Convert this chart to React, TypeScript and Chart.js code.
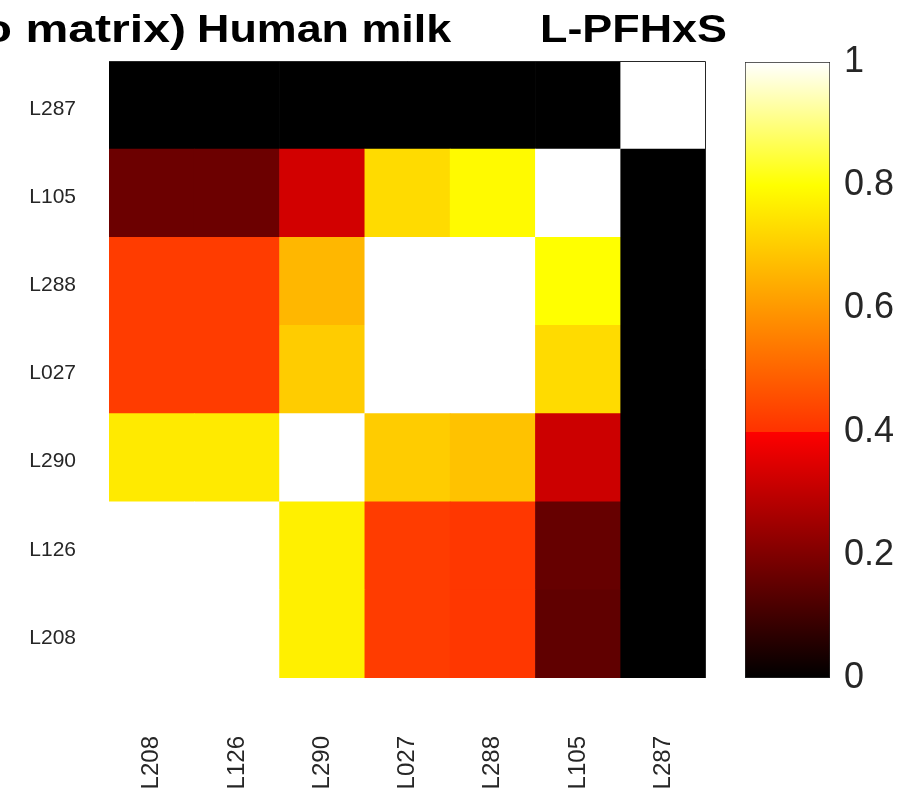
import React, { useEffect, useRef } from "react";
import { Chart, registerables } from "chart.js";

Chart.register(...registerables);

// Column (x) categories, left to right
const columnLabels = ["L208", "L126", "L290", "L027", "L288", "L105", "L287"];
// Row (y) categories, top to bottom
const rowLabels = ["L287", "L105", "L288", "L027", "L290", "L126", "L208"];

// Correlation values per row (columns in columnLabels order)
const rowL287 = [0, 0, 0, 0, 0, 0, 1];
const rowL105 = [0.17, 0.17, 0.33, 0.73, 0.79, 1, 0];
const rowL288 = [0.42, 0.42, 0.66, 1, 1, 0.8, 0];
const rowL027 = [0.42, 0.42, 0.7, 1, 1, 0.73, 0];
const rowL290 = [0.76, 0.76, 1, 0.7, 0.68, 0.32, 0];
const rowL126 = [1, 1, 0.77, 0.42, 0.41, 0.16, 0];
const rowL208 = [1, 1, 0.77, 0.42, 0.41, 0.15, 0];

const rowValues = [rowL287, rowL105, rowL288, rowL027, rowL290, rowL126, rowL208];

// Colorbar
const colorbarTicks = [0, 0.2, 0.4, 0.6, 0.8, 1];
const colorbarStops = [0, 0.3999, 0.4, 0.6, 0.8, 0.9, 1];

const titleLeft = "o matrix)";
const titleMid = "Human milk";
const titleRight = "L-PFHxS";

const FONT = '"Liberation Sans", Arial, Helvetica, sans-serif';
const TEXT = "#262626";

function heat(v: number): string {
  const x = Math.max(0, Math.min(1, v));
  if (x < 0.4) {
    const r = Math.round((x / 0.4) * 255);
    return `rgb(${r},0,0)`;
  }
  if (x < 0.8) {
    const g = Math.round(50 + ((x - 0.4) / 0.4) * 205);
    return `rgb(255,${g},0)`;
  }
  const b = Math.round(((x - 0.8) / 0.2) * 255);
  return `rgb(255,255,${b})`;
}

const titlePlugin = {
  id: "customTitle",
  afterDraw(chart: any) {
    const ctx = chart.ctx;
    const a = chart.chartArea;
    ctx.save();
    // thin frame on top and right edges of the plot area
    ctx.strokeStyle = "#262626";
    ctx.lineWidth = 1;
    ctx.beginPath();
    ctx.moveTo(a.left, a.top + 0.5);
    ctx.lineTo(a.right - 0.5, a.top + 0.5);
    ctx.lineTo(a.right - 0.5, a.bottom);
    ctx.stroke();
    ctx.restore();

    ctx.save();
    ctx.fillStyle = "#000";
    ctx.font = `bold 39px ${FONT}`;
    ctx.textBaseline = "alphabetic";
    ctx.save();
    const sl = 1.235;
    ctx.scale(sl, 1);
    ctx.textAlign = "right";
    ctx.fillText(titleLeft, 186 / sl, 42);
    ctx.restore();
    const sx = 1.15;
    ctx.scale(sx, 1);
    ctx.textAlign = "left";
    ctx.fillText(titleMid, 197 / sx, 42);
    ctx.fillText(titleRight, 540 / sx, 42);
    ctx.restore();
  },
};

export default function App() {
  const mainRef = useRef<HTMLCanvasElement | null>(null);
  const cbRef = useRef<HTMLCanvasElement | null>(null);

  useEffect(() => {
    const rowsBottomUp = rowLabels.slice().reverse();
    const valuesBottomUp = rowValues.slice().reverse();

    const main = new Chart(mainRef.current as HTMLCanvasElement, {
      type: "bar",
      data: {
        labels: columnLabels,
        datasets: valuesBottomUp.map((row, i) => ({
          label: rowsBottomUp[i],
          data: row.map(() => 1),
          backgroundColor: row.map((v) => heat(v)),
          borderWidth: 0,
          barPercentage: 1,
          categoryPercentage: 1,
        })),
      },
      options: {
        responsive: false,
        animation: false,
        layout: { padding: { left: 0, right: 212, top: 61, bottom: 0 } },
        plugins: {
          legend: { display: false },
          tooltip: { enabled: false },
          title: { display: false },
        },
        scales: {
          x: {
            stacked: true,
            grid: { display: false, drawTicks: false },
            border: { display: false },
            ticks: {
              minRotation: 90,
              maxRotation: 90,
              padding: 58,
              color: TEXT,
              font: { family: FONT, size: 24 },
            },
            afterFit: (s: any) => {
              s.height = 118;
            },
          },
          y: {
            stacked: true,
            min: 0,
            max: 7,
            grid: { display: false, drawTicks: false },
            border: { display: false },
            ticks: {
              padding: 33,
              color: TEXT,
              font: { family: FONT, size: 21 },
              callback: (_v: any, i: number) => rowsBottomUp[i],
            },
            afterBuildTicks: (s: any) => {
              s.ticks = rowsBottomUp.map((_, i) => ({ value: i + 0.455 }));
            },
            afterFit: (s: any) => {
              s.width = 109;
            },
          },
        },
      },
      plugins: [titlePlugin],
    } as any);

    const cb = new Chart(cbRef.current as HTMLCanvasElement, {
      type: "bar",
      data: {
        labels: [""],
        datasets: [
          {
            data: [1],
            backgroundColor: (c: any) => {
              const area = c.chart.chartArea;
              if (!area) return "#000";
              const g = c.chart.ctx.createLinearGradient(0, area.bottom, 0, area.top);
              colorbarStops.forEach((s) => g.addColorStop(s, heat(s)));
              return g;
            },
            borderColor: "#262626",
            borderWidth: 1,
            borderSkipped: false,
            barPercentage: 1,
            categoryPercentage: 1,
          },
        ],
      },
      options: {
        responsive: false,
        animation: false,
        layout: { padding: { left: 45, right: 0, top: 62, bottom: 118 } },
        plugins: {
          legend: { display: false },
          tooltip: { enabled: false },
        },
        scales: {
          x: { display: false },
          y: {
            position: "right",
            min: 0,
            max: 1,
            grid: { display: false, drawTicks: false },
            border: { display: false },
            ticks: {
              padding: 14,
              color: TEXT,
              font: { family: FONT, size: 36 },
              callback: (v: any) => String(Math.round(v * 10) / 10),
            },
            afterBuildTicks: (s: any) => {
              s.ticks = colorbarTicks.map((v) => ({ value: v }));
            },
            afterFit: (s: any) => {
              s.width = 88;
            },
          },
        },
      },
    } as any);

    return () => {
      main.destroy();
      cb.destroy();
    };
  }, []);

  return (
    <div style={{ position: "absolute", left: 0, top: 0, width: 918, height: 796, background: "#fff" }}>
      <canvas ref={mainRef} width={918} height={796} style={{ position: "absolute", left: 0, top: 0 }} />
      <canvas ref={cbRef} width={218} height={796} style={{ position: "absolute", left: 700, top: 0 }} />
    </div>
  );
}
